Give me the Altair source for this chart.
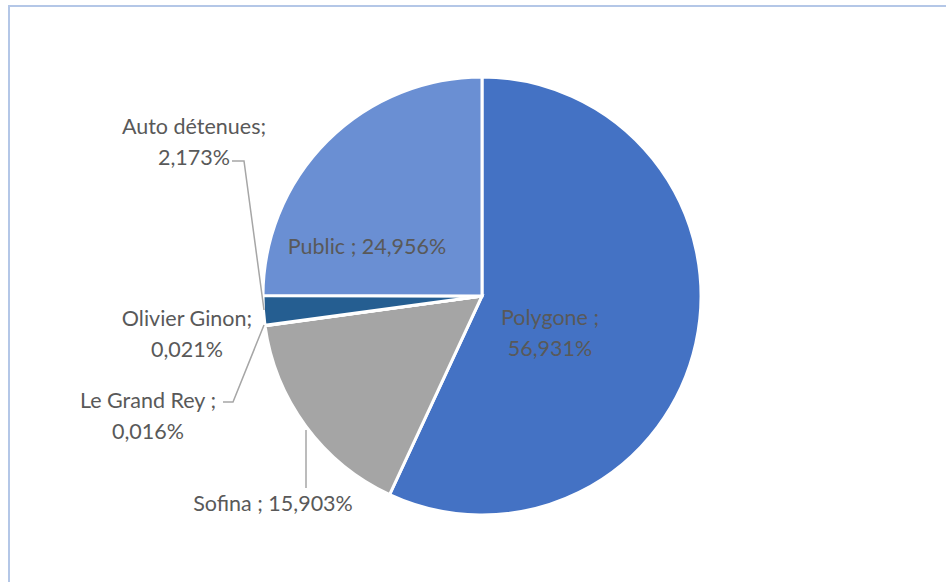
import altair as alt
import pandas as pd

categories = ["Polygone", "Sofina", "Le Grand Rey", "Olivier Ginon", "Auto détenues", "Public"]
values = [56.931, 15.903, 0.016, 0.021, 2.173, 24.956]
colors = ["#4472C4", "#A5A5A5", "#7F7F7F", "#264478", "#255E91", "#6A8FD3"]
labels = ["Polygone ;\n56,931%", "Sofina ; 15,903%", "Le Grand Rey ;\n0,016%",
          "Olivier Ginon;\n0,021%", "Auto détenues;\n2,173%", "Public ; 24,956%"]

# layout (pixel positions of labels' first line and leader lines)
label_x = [550, 273, 148, 187, 194, 367]
label_y = [319, 505, 402, 320, 128, 248]
leaders = [
    ("Auto détenues", [(232, 161), (244, 161), (264, 310)]),
    ("Le Grand Rey", [(223, 402), (233, 402), (264, 325)]),
    ("Sofina", [(306, 430), (306, 488)]),
]

df = pd.DataFrame({"cat": categories, "value": values, "order": list(range(len(categories)))})
lab = pd.DataFrame({"label": labels, "lx": label_x, "ly": label_y})
lead_rows = []
for name, pts in leaders:
    for i, (px, py) in enumerate(pts):
        lead_rows.append({"name": name, "i": i, "px": px, "py": py})
lead = pd.DataFrame(lead_rows)

pie = alt.Chart(df).mark_arc(radius=219, stroke="white", strokeWidth=3).encode(
    theta=alt.Theta("value:Q", stack=True),
    order=alt.Order("order:Q"),
    color=alt.Color("cat:N", scale=alt.Scale(domain=categories, range=colors), legend=None),
    x=alt.value(482),
    y=alt.value(296),
)

text = alt.Chart(lab).mark_text(
    font="Lato", fontSize=21.5, color="#595959", lineBreak="\n", lineHeight=31,
    align="center", baseline="middle",
).encode(
    x=alt.X("lx:Q", scale=None),
    y=alt.Y("ly:Q", scale=None),
    text="label:N",
)

lines = alt.Chart(lead).mark_line(color="#A6A6A6", strokeWidth=1.5).encode(
    x=alt.X("px:Q", scale=None),
    y=alt.Y("py:Q", scale=None),
    detail="name:N",
    order="i:Q",
)

frame = alt.Chart(pd.DataFrame({"a": [0]})).mark_rect(
    fill=None, stroke="#B4C7E7", strokeWidth=2
).encode(x=alt.value(9), x2=alt.value(980), y=alt.value(6), y2=alt.value(620))

chart = alt.layer(frame, pie, lines, text).properties(
    width=946, height=582, padding=0, autosize="none"
).configure_view(stroke=None)

chart.save("out.html", embed_options={"renderer": "svg", "actions": False})
